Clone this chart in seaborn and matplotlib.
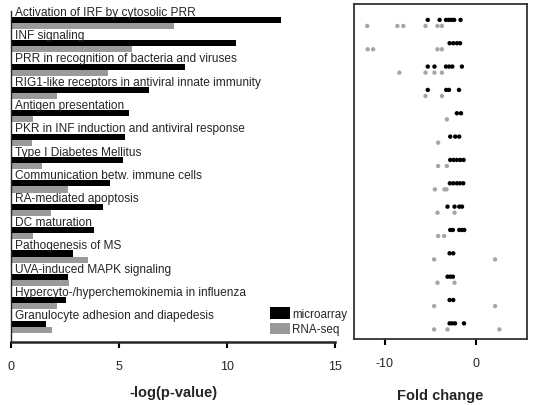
import numpy as np
import pandas as pd
import seaborn as sns
import matplotlib.pyplot as plt

# pathway names, top to bottom
pathways = [
    "Activation of IRF by cytosolic PRR",
    "INF signaling",
    "PRR in recognition of bacteria and viruses",
    "RIG1-like receptors in antiviral innate immunity",
    "Antigen presentation",
    "PKR in INF induction and antiviral response",
    "Type I Diabetes Mellitus",
    "Communication betw. immune cells",
    "RA-mediated apoptosis",
    "DC maturation",
    "Pathogenesis of MS",
    "UVA-induced MAPK signaling",
    "Hypercyto-/hyperchemokinemia in influenza",
    "Granulocyte adhesion and diapedesis",
]

# -log(p-value) per pathway
micro_logp = [12.5, 10.4, 8.05, 6.4, 5.45, 5.3, 5.2, 4.6, 4.27, 3.84, 2.85, 2.65, 2.55, 1.6]
rnaseq_logp = [7.55, 5.6, 4.5, 2.15, 1.0, 0.98, 1.42, 2.65, 1.85, 1.03, 3.58, 2.7, 2.15, 1.88]

# fold changes of the genes in each pathway
micro_fc = [
    [-5.3, -4.0, -3.3, -3.0, -2.7, -2.4, -1.7],
    [-2.9, -2.5, -2.1, -1.75],
    [-5.3, -4.56, -3.3, -2.95, -2.6, -1.55],
    [-5.3, -3.27, -2.97, -1.87],
    [-2.1, -1.65],
    [-2.83, -2.28, -1.84],
    [-2.83, -2.46, -2.1, -1.73, -1.36],
    [-2.87, -2.5, -2.1, -1.77, -1.4],
    [-3.13, -2.36, -1.84, -1.54],
    [-2.83, -2.54, -1.84, -1.54, -1.29],
    [-2.9, -2.5],
    [-3.13, -2.83, -2.54],
    [-2.9, -2.5],
    [-2.9, -2.61, -2.3, -1.32],
]
rnaseq_fc = [
    [-11.95, -8.64, -7.98, -5.55, -4.23, -3.75],
    [-11.9, -11.3, -4.23, -3.75],
    [-8.42, -5.55, -4.56, -3.75],
    [-5.55, -3.75],
    [-3.2],
    [-4.16],
    [-4.16, -3.2],
    [-4.52, -3.46, -3.24],
    [-4.23, -2.36],
    [-4.16, -3.5],
    [-4.6, 2.09],
    [-4.23, -2.36],
    [-4.6, 2.09],
    [-4.6, -3.13, 2.57],
]

methods = ["microarray", "RNA-seq"]
colors = {"microarray": "black", "RNA-seq": "#9a9a9a"}
dot_colors = {"microarray": "black", "RNA-seq": "#a6a6a6"}

# long-form tables
bars = pd.DataFrame({
    "pathway": pathways * 2,
    "score": micro_logp + rnaseq_logp,
    "method": ["microarray"] * len(pathways) + ["RNA-seq"] * len(pathways),
})

rows = []
for i in range(len(pathways)):
    for v in micro_fc[i]:
        rows.append((i, v, "microarray"))
    for v in rnaseq_fc[i]:
        rows.append((i, v, "RNA-seq"))
dots = pd.DataFrame(rows, columns=["idx", "fold", "method"])
offset = {"microarray": -0.13, "RNA-seq": 0.13}
dots["ypos"] = dots["idx"] + dots["method"].map(offset)

sns.set_theme(style="ticks")
plt.rcParams["font.family"] = ["Liberation Sans", "DejaVu Sans"]
plt.rcParams["axes.unicode_minus"] = False

fig = plt.figure(figsize=(5.37, 4.06), dpi=100)
ax1 = fig.add_axes([11 / 537, 1 - 343 / 406, 324 / 537, 331 / 406])
ax2 = fig.add_axes([354 / 537, 1 - 340 / 406, 173 / 537, 335 / 406])

# left panel: bars
sns.barplot(data=bars, x="score", y="pathway", hue="method", order=pathways,
            hue_order=methods, palette=colors, width=0.52, saturation=1,
            errorbar=None, linewidth=0, ax=ax1)
ax1.set_ylim(13.66, -0.51)
ax1.set_xlim(0, 15)
ax1.set_xticks([0, 5, 10, 15])
ax1.set_yticks([])
ax1.set_ylabel("")
ax1.set_xlabel("-log(p-value)", fontsize=10.5, fontweight="bold", labelpad=9)
for i, name in enumerate(pathways):
    ax1.text(0.19, i - 0.355, name, va="baseline", ha="left", fontsize=8.6)
sns.despine(ax=ax1)
ax1.spines["left"].set_linewidth(1.0)
ax1.spines["bottom"].set_linewidth(1.8)
ax1.tick_params(axis="x", length=4, width=1.5, pad=9, labelsize=9, color="black")

handles, labels = ax1.get_legend_handles_labels()
ax1.legend(handles, labels, loc="lower right", bbox_to_anchor=(1.037, 0.02),
           frameon=False, fontsize=8.4, handlelength=1.7, handleheight=1.1,
           handletextpad=0.15, labelspacing=0.25, borderpad=0, borderaxespad=0)

# right panel: fold change dots
sns.scatterplot(data=dots, x="fold", y="ypos", hue="method", palette=dot_colors,
                s=10, linewidth=0, legend=False, ax=ax2)
ax2.set_ylim(13.54, -0.81)
ax2.set_xlim(-13.4, 5.6)
ax2.set_xticks([-10, 0])
ax2.set_yticks([])
ax2.set_ylabel("")
ax2.set_xlabel("Fold change", fontsize=10.5, fontweight="bold", labelpad=14)
for s in ax2.spines.values():
    s.set_linewidth(1.3)
    s.set_color("#333333")
ax2.tick_params(axis="x", length=4, width=1.5, pad=9, labelsize=9, color="black")

fig.savefig("out.png", dpi=100)
